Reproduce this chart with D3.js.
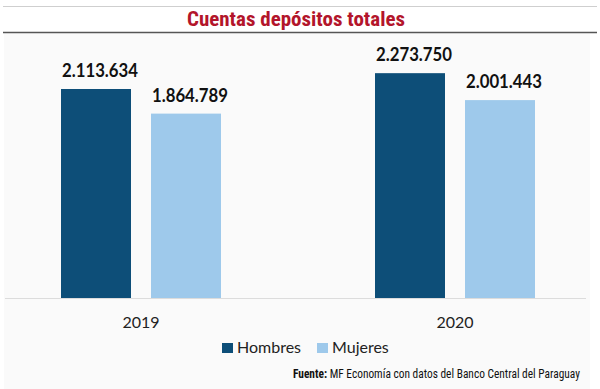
<!DOCTYPE html>
<html>
<head>
<meta charset="utf-8">
<script src="https://cdn.jsdelivr.net/npm/d3@7"></script>
<style>
  body { margin: 0; background: #fff; }
  svg { display: block; }
</style>
</head>
<body>
<div id="chart"></div>
<script>
const years = ["2019", "2020"]
const series = ["Hombres", "Mujeres"]
const hombres = [2113634, 2273750]
const mujeres = [1864789, 2001443]
const colors = ["#0d4e78", "#9ec9eb"]

const width = 600
const height = 389

const svg = d3.select("#chart")
    .append("svg")
    .attr("width", width)
    .attr("height", height)

// gray panel + rules
svg.append("rect")
    .attr("x", 4).attr("y", 33)
    .attr("width", 586).attr("height", 356)
    .attr("fill", "#fafafa")
svg.append("line")
    .attr("x1", 3).attr("x2", 597).attr("y1", 6.5).attr("y2", 6.5)
    .attr("stroke", "#cfcfcf").attr("stroke-width", 1)
svg.append("line")
    .attr("x1", 3).attr("x2", 597).attr("y1", 32.5).attr("y2", 32.5)
    .attr("stroke", "#555").attr("stroke-width", 1.3)

svg.append("text")
    .attr("x", 296).attr("y", 26)
    .attr("text-anchor", "middle")
    .attr("font-family", "'Liberation Sans Narrow', 'Roboto Condensed', 'Liberation Sans', sans-serif")
    .attr("font-weight", "bold")
    .attr("font-size", 20)
    .attr("fill", "#b3152b")
    .attr("textLength", 218)
    .attr("lengthAdjust", "spacingAndGlyphs")
    .text("Cuentas depósitos totales")

const x0 = d3.scaleBand().domain(years).range([-16, 612])
const x1 = d3.scaleBand().domain(series).range([0, 160]).paddingInner(0.2222)
const y = d3.scaleLinear().domain([0, 2500000]).range([298, 50.8])

const data = years.map((yr, i) => ({
    year: yr,
    values: [
        { key: "Hombres", value: hombres[i], color: colors[0] },
        { key: "Mujeres", value: mujeres[i], color: colors[1] }
    ]
}))

const fmt = v => d3.format(",")(v).replace(/,/g, ".")

const groups = svg.selectAll(".grp")
    .data(data)
    .join("g")
    .attr("transform", d => `translate(${x0(d.year) + x0.bandwidth() / 2 - 80},0)`)

groups.selectAll("rect")
    .data(d => d.values)
    .join("rect")
    .attr("x", d => x1(d.key))
    .attr("y", d => y(d.value))
    .attr("width", x1.bandwidth())
    .attr("height", d => y(0) - y(d.value))
    .attr("fill", d => d.color)

groups.selectAll(".lbl")
    .data(d => d.values)
    .join("text")
    .attr("x", d => x1(d.key) + x1.bandwidth() / 2 + 4)
    .attr("y", d => y(d.value) - 12)
    .attr("text-anchor", "middle")
    .attr("font-family", "Lato, 'Open Sans', sans-serif")
    .attr("font-weight", "bold")
    .attr("font-size", 19)
    .attr("fill", "#111")
    .attr("textLength", 76)
    .attr("lengthAdjust", "spacingAndGlyphs")
    .text(d => fmt(d.value))

// baseline
svg.append("line")
    .attr("x1", 5).attr("x2", 586).attr("y1", y(0) + 0.5).attr("y2", y(0) + 0.5)
    .attr("stroke", "#dcdcdc")

// x axis labels
svg.append("g")
    .selectAll("text")
    .data(years)
    .join("text")
    .attr("x", d => x0(d) + x0.bandwidth() / 2)
    .attr("y", 328)
    .attr("text-anchor", "middle")
    .attr("font-family", "Lato, 'Open Sans', sans-serif")
    .attr("font-size", 16)
    .attr("fill", "#222")
    .text(d => d)

// legend
const legendX = [222, 317]
const legend = svg.append("g")
    .selectAll("g")
    .data(series)
    .join("g")
    .attr("transform", (d, i) => `translate(${legendX[i]},343)`)
legend.append("rect")
    .attr("width", 11).attr("height", 10)
    .attr("fill", (d, i) => colors[i])
legend.append("text")
    .attr("x", 15).attr("y", 10)
    .attr("font-family", "Lato, 'Open Sans', sans-serif")
    .attr("font-size", 16)
    .attr("fill", "#222")
    .text(d => d)

// source
const src = svg.append("text")
    .attr("x", 293).attr("y", 378)
    .attr("font-family", "'Liberation Sans Narrow', 'Roboto Condensed', 'Liberation Sans', sans-serif")
    .attr("font-size", 12)
    .attr("fill", "#111")
    .attr("textLength", 287)
    .attr("lengthAdjust", "spacingAndGlyphs")
src.append("tspan").attr("font-weight", "bold").text("Fuente:")
src.append("tspan").text(" MF Economía con datos del Banco Central del Paraguay")
</script>
</body>
</html>
